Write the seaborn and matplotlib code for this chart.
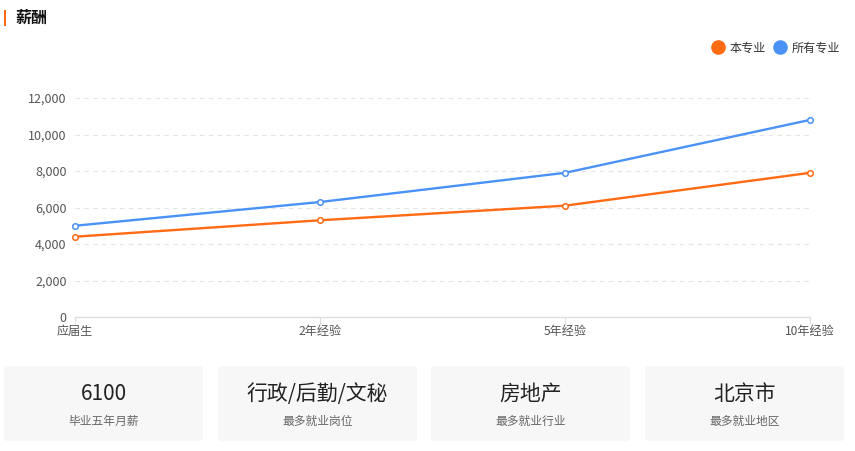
import matplotlib
matplotlib.use("Agg")
import matplotlib.pyplot as plt
from matplotlib.patches import FancyBboxPatch, Rectangle
from matplotlib.lines import Line2D
import seaborn as sns
import pandas as pd

# Salary by years of experience
stages = ["应届生", "2年经验", "5年经验", "10年经验"]
major_salary = [4400, 5300, 6100, 7900]
all_salary = [5000, 6300, 7900, 10800]
series_names = ["本专业", "所有专业"]
y_ticks = [0, 2000, 4000, 6000, 8000, 10000, 12000]

# Summary cards
card_values = ["6100", "行政/后勤/文秘", "房地产", "北京市"]
card_labels = ["毕业五年月薪", "最多就业岗位", "最多就业行业", "最多就业地区"]

ORANGE = "#FF6A13"
BLUE = "#4B92F7"

sns.set_theme(style="white")
plt.rcParams["font.family"] = ["Noto Sans CJK SC", "DejaVu Sans"]

W, H = 855, 451
fig = plt.figure(figsize=(W / 100, H / 100), dpi=100)
fig.patch.set_facecolor("white")


def fx(px):
    return px / W


def fy(py):
    return 1 - py / H


df = pd.DataFrame({
    "stage": stages * 2,
    "salary": major_salary + all_salary,
    "series": [series_names[0]] * len(stages) + [series_names[1]] * len(stages),
})

ax = fig.add_axes([fx(75), fy(317), fx(810) - fx(75), fy(98) - fy(317)])
sns.lineplot(data=df, x="stage", y="salary", hue="series",
             palette=[ORANGE, BLUE], ax=ax, linewidth=1.7,
             marker="o", markersize=4, legend=False, clip_on=False, zorder=3)

# hollow point markers outlined in the series colour
for line in ax.lines:
    c = line.get_color()
    line.set_markerfacecolor("white")
    line.set_markeredgecolor(c)
    line.set_markeredgewidth(1.1)

ax.set_xlim(0, len(stages) - 1)
ax.set_ylim(0, 12000)
ax.set_yticks(y_ticks)
ax.set_yticklabels([f"{v:,}" for v in y_ticks])
ax.set_xlabel("")
ax.set_ylabel("")

for v in y_ticks[1:]:
    ax.axhline(v, color="#e4e4e4", linewidth=0.8, linestyle=(0, (4, 4)), zorder=1)

for side in ["top", "right", "left"]:
    ax.spines[side].set_visible(False)
ax.spines["bottom"].set_color("#dddddd")
ax.spines["bottom"].set_linewidth(1)

ax.tick_params(axis="y", length=0, pad=6, labelsize=9, labelcolor="#555555")
ax.tick_params(axis="x", length=5, width=0.8, color="#dddddd", pad=1,
               labelsize=8.7, labelcolor="#555555", direction="out", bottom=True)

# Section header
fig.add_artist(Rectangle((fx(4), fy(26)), fx(2), fy(10) - fy(26),
                         transform=fig.transFigure, color=ORANGE, lw=0))
fig.text(fx(16), fy(18), "薪酬", fontsize=11.5, fontweight="bold",
         color="#111111", va="center", ha="left")

# Legend
handles = [Line2D([], [], linestyle="none", marker="o", markersize=9.5,
                  markerfacecolor=c, markeredgecolor=c)
           for c in (ORANGE, BLUE)]
fig.legend(handles, series_names, loc="center right",
           bbox_to_anchor=(fx(840), fy(48)), ncol=2, frameon=False,
           fontsize=8.7, handletextpad=0.45, columnspacing=0.7,
           handlelength=1.0, borderaxespad=0, borderpad=0,
           labelcolor="#333333")

# Summary cards
card_x = [4, 218, 431, 645]
card_w = 199
for x0, val, lab in zip(card_x, card_values, card_labels):
    box = FancyBboxPatch((fx(x0), fy(441)), fx(card_w), fy(366) - fy(441),
                         boxstyle="round,pad=0,rounding_size=0.005",
                         transform=fig.transFigure, facecolor="#f7f7f7",
                         edgecolor="none")
    fig.add_artist(box)
    cx = fx(x0 + card_w / 2)
    fig.text(cx, fy(394), val, fontsize=15, color="#222222",
             ha="center", va="center")
    fig.text(cx, fy(421), lab, fontsize=8.5, color="#666666",
             ha="center", va="center")

fig.savefig("out.png", dpi=100, facecolor="white")
